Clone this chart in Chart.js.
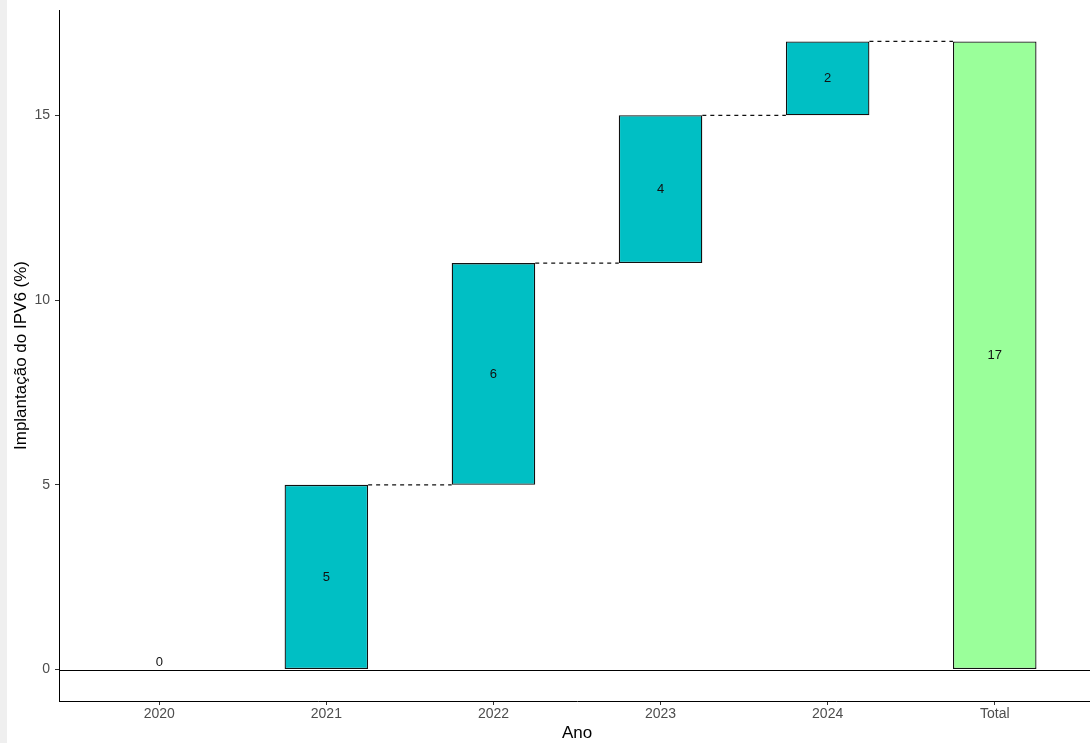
<!DOCTYPE html>
<html>
<head>
<meta charset="utf-8">
<script src="https://cdn.jsdelivr.net/npm/chart.js@4"></script>
<style>
    html, body { margin: 0; padding: 0; overflow: hidden; background: #efefef; }
    #wrap { position: absolute; left: 7px; top: 0; width: 1088px; height: 743px; background: #fff; }
</style>
</head>
<body>
<div id="wrap"><canvas id="waterfallChart"></canvas></div>
<script>
const categories = ['2020', '2021', '2022', '2023', '2024', 'Total'];
const increments = [0, 5, 6, 4, 2];
const totalValue = 17;
const yTicks = [0, 5, 10, 15];

const stepColor = '#00BFC4';
const totalColor = '#9AFF9A';

function getBarData() {
    let bars = [];
    let running = 0;
    for (let i = 0; i < increments.length; i++) {
        bars.push({ x: i, y: [running, running + increments[i]] });
        running += increments[i];
    }
    bars.push({ x: increments.length, y: [0, totalValue] });
    return bars;
}

function getConnectorData(bars) {
    // dashed line from each step to the next, skipping the empty first one
    let points = [];
    for (let i = 1; i < bars.length - 1; i++) {
        const level = bars[i].y[1];
        points.push({ x: i + 0.25, y: level });
        points.push({ x: i + 0.75, y: level });
        points.push({ x: i + 0.5, y: null });
    }
    return points;
}

const barLabels = {
    id: 'barLabels',
    afterDatasetsDraw(chart) {
        const ctx = chart.ctx;
        const meta = chart.getDatasetMeta(0);
        const yScale = chart.scales.y;
        ctx.save();
        ctx.font = '13px "Liberation Sans", Arial, sans-serif';
        ctx.fillStyle = '#111';
        ctx.textAlign = 'center';
        ctx.textBaseline = 'middle';
        meta.data.forEach((bar, i) => {
            const range = chart.data.datasets[0].data[i].y;
            const mid = (range[0] + range[1]) / 2;
            let y = yScale.getPixelForValue(mid);
            if (range[0] === range[1]) y -= 7;
            ctx.fillText(String(range[1] - range[0]), bar.x, y);
        });
        ctx.restore();
    }
};

const zeroLine = {
    id: 'zeroLine',
    beforeDatasetsDraw(chart) {
        const ctx = chart.ctx;
        const area = chart.chartArea;
        const y = chart.scales.y.getPixelForValue(0);
        ctx.save();
        ctx.strokeStyle = '#000';
        ctx.lineWidth = 1;
        ctx.beginPath();
        ctx.moveTo(area.left, Math.round(y) + 0.5);
        ctx.lineTo(area.right, Math.round(y) + 0.5);
        ctx.stroke();
        ctx.restore();
    }
};

function drawChart() {
    const bars = getBarData();
    const colors = bars.map((_, i) => i === bars.length - 1 ? totalColor : stepColor);

    const data = {
        datasets: [{
            type: 'bar',
            data: bars,
            backgroundColor: colors,
            borderColor: '#111',
            borderWidth: 1.3,
            borderSkipped: false,
            categoryPercentage: 1,
            barPercentage: 0.5
        }, {
            type: 'line',
            data: getConnectorData(bars),
            borderColor: '#111',
            borderWidth: 1.3,
            borderDash: [4, 4],
            pointRadius: 0,
            spanGaps: false
        }]
    };

    const tickFont = { family: '"Liberation Sans", Arial, sans-serif', size: 14 };
    const titleFont = { family: '"Liberation Sans", Arial, sans-serif', size: 17 };

    const config = {
        type: 'bar',
        data: data,
        plugins: [zeroLine, barLabels],
        options: {
            responsive: true,
            maintainAspectRatio: false,
            animation: false,
            layout: { padding: { top: 10, right: 0, left: 0, bottom: 0 } },
            plugins: {
                legend: { display: false },
                tooltip: { enabled: false }
            },
            scales: {
                x: {
                    type: 'linear',
                    min: -0.6,
                    max: 5.6,
                    offset: false,
                    afterBuildTicks: scale => { scale.ticks = categories.map((_, i) => ({ value: i })); },
                    afterFit: scale => { scale.height = 42; },
                    ticks: {
                        callback: value => categories[value] ?? '',
                        color: '#4d4d4d',
                        font: tickFont,
                        padding: 1,
                        maxRotation: 0,
                        autoSkip: false
                    },
                    grid: { offset: false, drawOnChartArea: false, drawTicks: true, tickLength: 4, color: '#333' },
                    border: { display: true, color: '#000', width: 1 },
                    title: { display: true, text: 'Ano', color: '#000', font: titleFont, padding: { top: 0, bottom: -1 } }
                },
                y: {
                    min: -0.85,
                    max: 17.85,
                    afterBuildTicks: scale => { scale.ticks = yTicks.map(v => ({ value: v })); },
                    afterFit: scale => {
                        scale.width = 52;
                        scale.paddingTop = 0;
                        scale.paddingBottom = 0;
                    },
                    ticks: {
                        color: '#4d4d4d',
                        font: tickFont,
                        padding: 5
                    },
                    grid: { drawOnChartArea: false, drawTicks: true, tickLength: 4, color: '#333' },
                    border: { display: true, color: '#000', width: 1 },
                    title: { display: true, text: 'Implantação do IPV6 (%)', color: '#000', font: titleFont, padding: { top: 4, bottom: 0 } }
                }
            }
        }
    };

    const canvas = document.getElementById('waterfallChart');
    new Chart(canvas.getContext('2d'), config);
}

drawChart();
</script>
</body>
</html>
